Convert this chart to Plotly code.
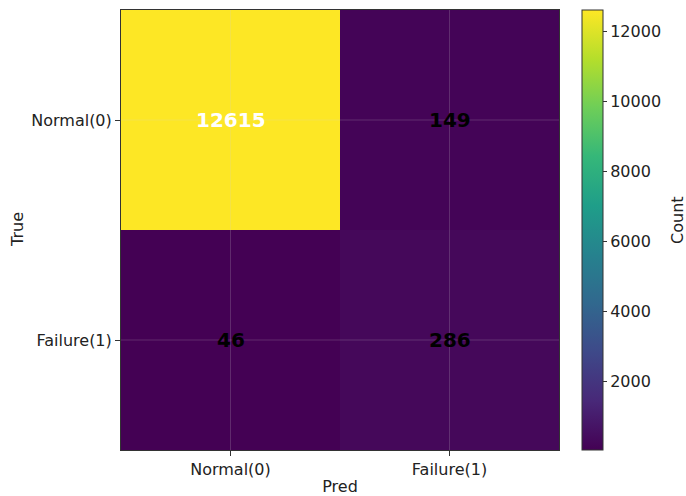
import plotly.graph_objects as go

pred_labels = ["Normal(0)", "Failure(1)"]
true_labels = ["Normal(0)", "Failure(1)"]
counts = [[12615, 149],
          [46, 286]]
cbar_ticks = [2000, 4000, 6000, 8000, 10000, 12000]

font_family = "DejaVu Sans"
zmin = min(min(r) for r in counts)
zmax = max(max(r) for r in counts)
thresh = (zmin + zmax) / 2

fig = go.Figure()
fig.add_trace(go.Heatmap(
    z=counts, x=pred_labels, y=true_labels,
    colorscale="Viridis", zmin=zmin, zmax=zmax,
    colorbar=dict(
        thickness=21, len=1.0, lenmode="fraction", y=0.5, yanchor="middle",
        x=1.0525, xanchor="left", xpad=0, ypad=0,
        outlinewidth=1, outlinecolor="#333",
        ticks="outside", ticklen=4, tickcolor="#333",
        tickvals=cbar_ticks, ticktext=[str(v) for v in cbar_ticks],
        tickfont=dict(size=16, color="#222"),
    ),
    hovertemplate="Pred=%{x}<br>True=%{y}<br>Count=%{z}<extra></extra>",
))

annotations = []
for i, t in enumerate(true_labels):
    for j, p in enumerate(pred_labels):
        v = counts[i][j]
        annotations.append(dict(
            x=p, y=t, xref="x", yref="y", text=str(v), showarrow=False,
            font=dict(size=20, family=font_family, weight="bold",
                      color="white" if v > thresh else "black"),
        ))
# colorbar label
annotations.append(dict(
    text="Count", xref="paper", yref="paper", x=(678 - 121) / 438, y=0.523,
    textangle=-90, showarrow=False, xanchor="center", yanchor="middle",
    font=dict(size=16, family=font_family, color="#222"),
))
# y axis label
annotations.append(dict(
    text="True", xref="paper", yref="paper", x=(17 - 121) / 438, y=0.5,
    textangle=-90, showarrow=False, xanchor="center", yanchor="middle",
    font=dict(size=16, family=font_family, color="#222"),
))

shapes = []
for p in pred_labels:
    shapes.append(dict(type="line", xref="x", yref="paper", x0=p, x1=p, y0=0, y1=1,
                       line=dict(color="rgba(210,210,210,0.2)", width=1), layer="above"))
for t in true_labels:
    shapes.append(dict(type="line", xref="paper", yref="y", x0=0, x1=1, y0=t, y1=t,
                       line=dict(color="rgba(210,210,210,0.2)", width=1), layer="above"))

fig.update_layout(
    width=686, height=496,
    margin=dict(l=121, r=127, t=10, b=46, autoexpand=False),
    paper_bgcolor="white", plot_bgcolor="white",
    font=dict(family=font_family, size=16, color="#222"),
    annotations=annotations, shapes=shapes,
    xaxis=dict(title=dict(text="Pred", standoff=4, font=dict(size=16)),
               showline=True, linecolor="#333", linewidth=1, mirror=True,
               ticks="outside", ticklen=5, tickcolor="#333",
               showgrid=False, tickfont=dict(size=16)),
    yaxis=dict(autorange="reversed",
               showline=True, linecolor="#333", linewidth=1, mirror=True,
               ticks="outside", ticklen=5, tickcolor="#333",
               showgrid=False, tickfont=dict(size=16)),
)

fig.write_html("out.html", config={"displayModeBar": False},
               post_script="document.body.style.margin='0';")
